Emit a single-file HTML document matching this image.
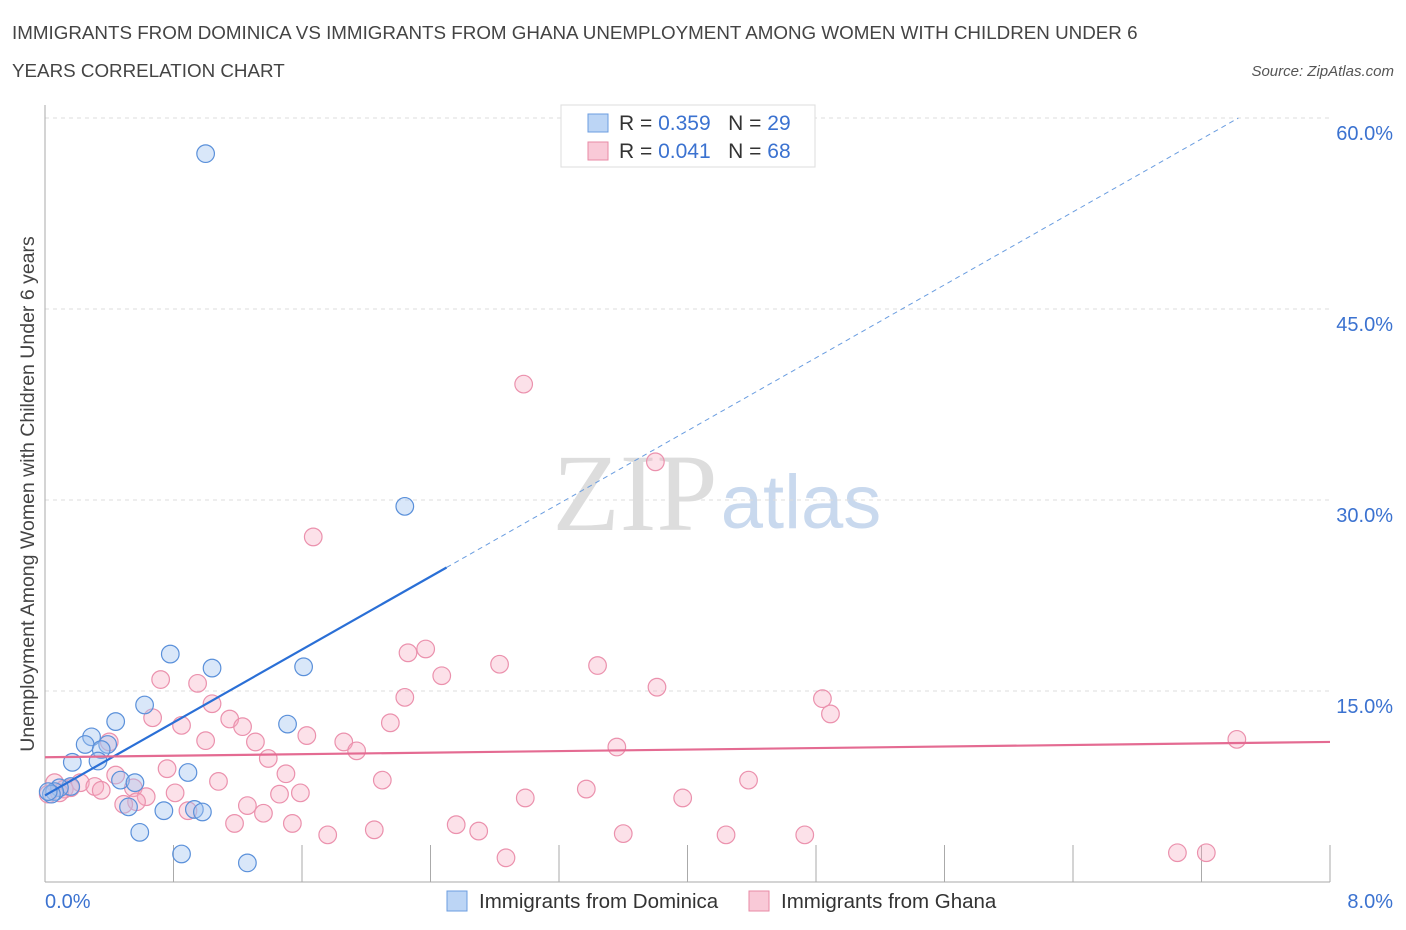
<!DOCTYPE html>
<html><head><meta charset="utf-8"><style>
body{margin:0;background:#fff;font-family:"Liberation Sans",sans-serif;}
svg{display:block}
</style></head><body>
<svg id="c" width="1406" height="930">
<text x="12" y="39" font-size="18.8" fill="#444">IMMIGRANTS FROM DOMINICA VS IMMIGRANTS FROM GHANA UNEMPLOYMENT AMONG WOMEN WITH CHILDREN UNDER 6</text>
<text x="12" y="77" font-size="18.8" fill="#444">YEARS CORRELATION CHART</text>
<text x="1394" y="76" font-size="15" fill="#555" font-style="italic" text-anchor="end">Source: ZipAtlas.com</text>
<text x="0" y="0" font-size="19.5" fill="#444" text-anchor="middle" transform="translate(34,494) rotate(-90)">Unemployment Among Women with Children Under 6 years</text>
<text x="635" y="530" font-size="110" fill="#ddd" font-family="Liberation Serif,serif" text-anchor="middle">ZIP</text>
<text x="801" y="528" font-size="76" fill="#c9d9ee" text-anchor="middle">atlas</text>
<g id="grid"></g><g id="pts"></g><g id="lines"></g>
<g>
<rect x="561" y="105" width="254" height="62" fill="#fff" stroke="#ddd"/>
<rect x="588" y="114" width="20" height="18" fill="#bcd5f5" stroke="#6b9de0"/>
<text x="619" y="130" font-size="21" fill="#333">R = <tspan fill="#3b72d0">0.359</tspan>&#160;&#160;&#160;N = <tspan fill="#3b72d0">29</tspan></text>
<rect x="588" y="142" width="20" height="18" fill="#f9c9d7" stroke="#e88aa6"/>
<text x="619" y="158" font-size="21" fill="#333">R = <tspan fill="#3b72d0">0.041</tspan>&#160;&#160;&#160;N = <tspan fill="#3b72d0">68</tspan></text>
</g>
<g>
<rect x="447" y="891" width="20" height="20" fill="#bcd5f5" stroke="#6b9de0"/>
<text x="479" y="908" font-size="20.5" fill="#333">Immigrants from Dominica</text>
<rect x="749" y="891" width="20" height="20" fill="#f9c9d7" stroke="#e88aa6"/>
<text x="781" y="908" font-size="20.5" fill="#333">Immigrants from Ghana</text>
</g>
</svg>
<script>
const xTicks=[0,1,2,3,4,5,6,7,8,9,10];
const yTicks=[15,30,45,60];
const blueX=[1.00,2.24,0.78,1.04,1.61,0.62,0.44,1.51,0.29,0.25,0.39,0.35,0.17,0.33,0.89,0.47,0.56,0.16,0.09,0.06,0.04,0.52,0.74,0.93,0.98,0.59,0.85,1.26,0.02];
const blueY=[57.2,29.5,17.9,16.8,16.9,13.9,12.6,12.4,11.4,10.8,10.8,10.4,9.4,9.5,8.6,8.0,7.8,7.5,7.4,7.1,6.9,5.9,5.6,5.7,5.5,3.9,2.2,1.5,7.1];
const pinkX=[2.98,3.80,1.67,2.37,2.26,2.83,3.44,2.47,0.72,0.95,3.81,2.24,4.84,1.04,4.89,0.67,1.15,2.15,0.85,1.23,1.63,1.00,1.31,1.86,0.40,3.56,1.94,7.42,1.39,0.76,1.50,0.44,1.08,2.10,4.38,0.06,0.22,0.31,0.12,0.55,0.16,0.35,3.37,0.81,1.46,1.59,0.63,2.99,3.97,0.57,0.49,1.26,0.89,1.36,1.18,1.54,2.56,2.05,2.70,1.76,3.60,4.24,4.73,2.87,7.05,7.23,0.02,0.09];
const pinkY=[39.1,33.0,27.1,18.3,18.0,17.1,17.0,16.2,15.9,15.6,15.3,14.5,14.4,14.0,13.2,12.9,12.8,12.5,12.3,12.2,11.5,11.1,11.0,11.0,11.0,10.6,10.3,11.2,9.7,8.9,8.5,8.4,7.9,8.0,8.0,7.8,7.8,7.5,7.3,7.4,7.4,7.2,7.3,7.0,6.9,7.0,6.7,6.6,6.6,6.3,6.1,6.0,5.6,5.4,4.6,4.6,4.5,4.1,4.0,3.7,3.8,3.7,3.7,1.9,2.3,2.3,6.9,7.0];
const blueTrend=[0,6.8,2.5,24.7];
const blueDash=[2.5,24.7,7.43,60];
const pinkTrend=[0,9.8,8,11.0];
const X0=45,X1=1330,Y0=882,YT=118;
const sx=v=>X0+v/8*(X1-X0);
const sy=v=>Y0-v/60*(Y0-YT);
const NS="http://www.w3.org/2000/svg";
function mk(t,a,p){const e=document.createElementNS(NS,t);for(const k in a)e.setAttribute(k,a[k]);p.appendChild(e);return e;}
const g=document.getElementById('grid');
for(const t of yTicks){
 const l=mk('line',{x1:X0,x2:X1,y1:sy(t),y2:sy(t),stroke:'#ddd','stroke-dasharray':'4,4'},g);
 
 
 const tx=mk('text',{x:1393,y:sy(t)+22,'font-size':20,fill:'#3b72d0','text-anchor':'end'},g);
 tx.textContent=t.toFixed(1)+'%';
 
 
}
const ax=mk('line',{x1:X0,x2:X0,y1:105,y2:Y0,stroke:'#aaa'},g);


const axx=mk('line',{x1:X0,x2:X1,y1:Y0,y2:Y0,stroke:'#aaa'},g);


for(const t of xTicks){const x=sx(t*0.8);
 const l=mk('line',{x1:x,x2:x,y1:845,y2:Y0,stroke:'#aaa'},g);
 
 }
const t0=mk('text',{x:45,y:908,'font-size':20,fill:'#3b72d0'},g);t0.textContent='0.0%';


const t8=mk('text',{x:1393,y:908,'font-size':20,fill:'#3b72d0','text-anchor':'end'},g);t8.textContent='8.0%';


const P=document.getElementById('pts');
pinkX.forEach((v,i)=>{const c=mk('circle',{cx:sx(v),cy:sy(pinkY[i]),r:8.8,fill:'rgba(246,168,192,0.35)',stroke:'#eb91ad','stroke-width':1.2},P);
 
 });
blueX.forEach((v,i)=>{const c=mk('circle',{cx:sx(v),cy:sy(blueY[i]),r:8.8,fill:'rgba(160,195,240,0.4)',stroke:'#5a90da','stroke-width':1.2},P);
 
 });
const L=document.getElementById('lines');
const b=mk('line',{x1:sx(blueTrend[0]),y1:sy(blueTrend[1]),x2:sx(blueTrend[2]),y2:sy(blueTrend[3]),stroke:'#2a6fd6','stroke-width':2.2},L);


const bd=mk('line',{x1:sx(blueDash[0]),y1:sy(blueDash[1]),x2:sx(blueDash[2]),y2:sy(blueDash[3]),stroke:'#6a9de0','stroke-width':1,'stroke-dasharray':'5,4'},L);


const p=mk('line',{x1:sx(pinkTrend[0]),y1:sy(pinkTrend[1]),x2:sx(pinkTrend[2]),y2:sy(pinkTrend[3]),stroke:'#e46b92','stroke-width':2.2},L);


</script>
</body></html>
